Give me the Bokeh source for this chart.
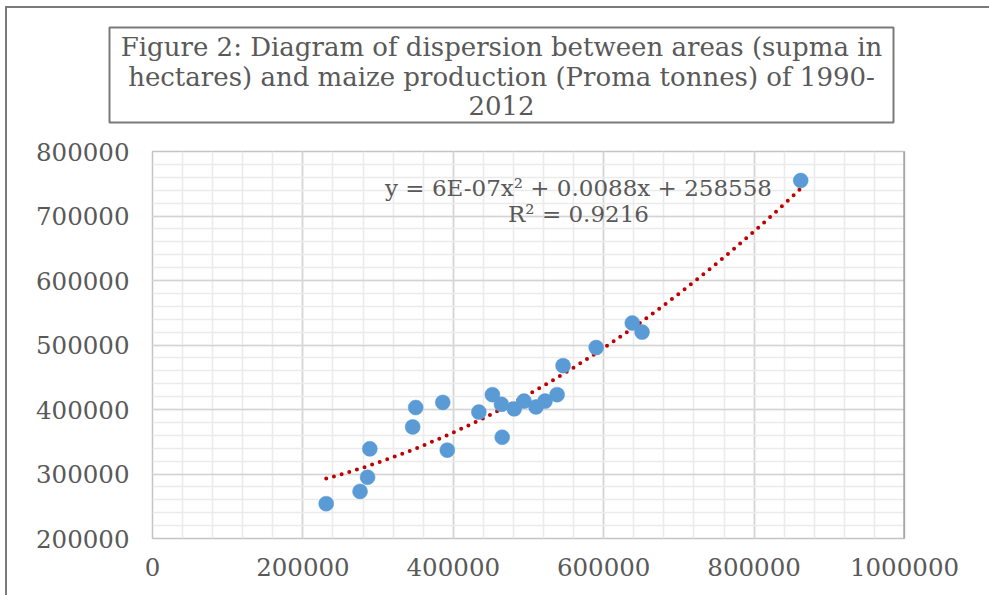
import numpy as np
from bokeh.plotting import figure
from bokeh.layouts import column
from bokeh.models import (SingleIntervalTicker, Label, Span, BoxAnnotation,
                          ColumnDataSource, Range1d)
from bokeh.embed import file_html
from bokeh.resources import INLINE

# Harvested area (supma, hectares) and maize production (proma, tonnes), 1990-2012
supma = [231000, 276000, 286000, 289000, 346000, 350000, 386000, 392000,
         434000, 452000, 464000, 465000, 481000, 494000, 510000, 522000,
         538000, 546000, 590000, 638000, 651000, 862000]
proma = [254000, 273000, 295000, 339000, 373000, 403000, 411000, 337000,
         396000, 423000, 408000, 357000, 401000, 413000, 404000, 413000,
         423000, 468000, 496000, 534000, 520000, 755000]

title_lines = ["Figure 2: Diagram of dispersion between areas (supma in",
               "hectares) and maize production (Proma tonnes) of 1990-",
               "2012"]
equation_lines = ["y = 6E-07x\u00b2 + 0.0088x + 258558", "R\u00b2 = 0.9216"]

x_ticks = [0, 200000, 400000, 600000, 800000, 1000000]
y_ticks = [200000, 300000, 400000, 500000, 600000, 700000, 800000]

SERIF = "DejaVu Serif"
TEXT = "#595959"
W = 982
TITLE_H, MAIN_H = 123, 464

# ---- title strip: a framed, centred three-line caption ----
tfig = figure(width=W, height=TITLE_H, output_backend="svg",
              toolbar_location=None, x_axis_type=None, y_axis_type=None,
              x_range=Range1d(0, W), y_range=Range1d(0, TITLE_H),
              min_border=0)
tfig.frame_align = False
tfig.outline_line_color = None
tfig.grid.visible = False
tfig.background_fill_color = "white"
tfig.border_fill_color = "white"
tfig.add_layout(BoxAnnotation(left=102, right=886, top=19, bottom=114,
                              left_units="canvas", right_units="canvas",
                              top_units="canvas", bottom_units="canvas",
                              fill_color=None, line_color="#7a7a7a",
                              line_width=2, line_alpha=1))
for txt, yy in zip(title_lines, [38, 68, 97]):
    tfig.add_layout(Label(x=494, y=yy, x_units="canvas", y_units="canvas",
                          text=txt, text_font=SERIF, text_font_size="26px",
                          text_color=TEXT, text_align="center",
                          text_baseline="middle"))

# ---- scatter chart ----
p = figure(width=W, height=MAIN_H, output_backend="svg", toolbar_location=None,
           x_range=Range1d(0, 1000000), y_range=Range1d(200000, 800000),
           min_border_left=145, min_border_right=85,
           min_border_top=20, min_border_bottom=57)
p.frame_align = False
p.background_fill_color = "white"
p.border_fill_color = "white"
p.outline_line_color = "#c4c4c4"
p.outline_line_width = 1.5

# axes: labels only, the frame draws the box
for ax in (p.xaxis[0], p.yaxis[0]):
    ax.axis_line_color = None
    ax.major_tick_line_color = None
    ax.minor_tick_line_color = None
    ax.major_tick_out = 0
    ax.major_tick_in = 0
    ax.minor_tick_out = 0
    ax.major_label_text_font = SERIF
    ax.major_label_text_font_size = "24.5px"
    ax.major_label_text_color = TEXT

p.xaxis.ticker = SingleIntervalTicker(interval=200000, num_minor_ticks=5)
p.yaxis.ticker = SingleIntervalTicker(interval=100000, num_minor_ticks=5)
p.xaxis.major_label_standoff = 19
p.yaxis.major_label_standoff = 23
p.xaxis.major_label_overrides = {t: str(t) for t in x_ticks}
p.yaxis.major_label_overrides = {t: str(t) for t in y_ticks}

for g in (p.xgrid[0], p.ygrid[0]):
    g.grid_line_color = "#d4d4d4"
    g.grid_line_width = 1.6
    g.minor_grid_line_color = "#ebebeb"
    g.minor_grid_line_width = 1.6

# darker right edge of the plot box
p.add_layout(Span(location=1000000, dimension="height",
                  line_color="#8a8a8a", line_width=2))

# quadratic trendline fitted to the observations
coef = np.polyfit(supma, proma, 2)
xs = np.linspace(min(supma), max(supma), 200)
trend = ColumnDataSource(dict(x=xs, y=np.polyval(coef, xs)))
p.line("x", "y", source=trend, line_color="#c00000", line_width=4,
       line_dash="0 8", line_cap="round")

pts = ColumnDataSource(dict(x=supma, y=proma))
p.scatter("x", "y", source=pts, size=15, fill_color="#5b9bd5",
          line_color="#5b9bd5", line_width=0.5)

# equation of the trendline
for txt, yy in zip(equation_lines, [56, 82]):
    p.add_layout(Label(x=571, y=yy, x_units="canvas", y_units="canvas",
                       text=txt, text_font=SERIF, text_font_size="23px",
                       text_color=TEXT, text_align="center",
                       text_baseline="middle"))

# the whole figure sits in a sheet ruled along its top and left side
layout = column(tfig, p, spacing=0,
                styles={"margin-left": "5px", "margin-top": "6px",
                        "border-left": "2px solid #7a7a7a",
                        "border-top": "2px solid #7a7a7a"})

open("out.html", "w").write(file_html(layout, INLINE))
